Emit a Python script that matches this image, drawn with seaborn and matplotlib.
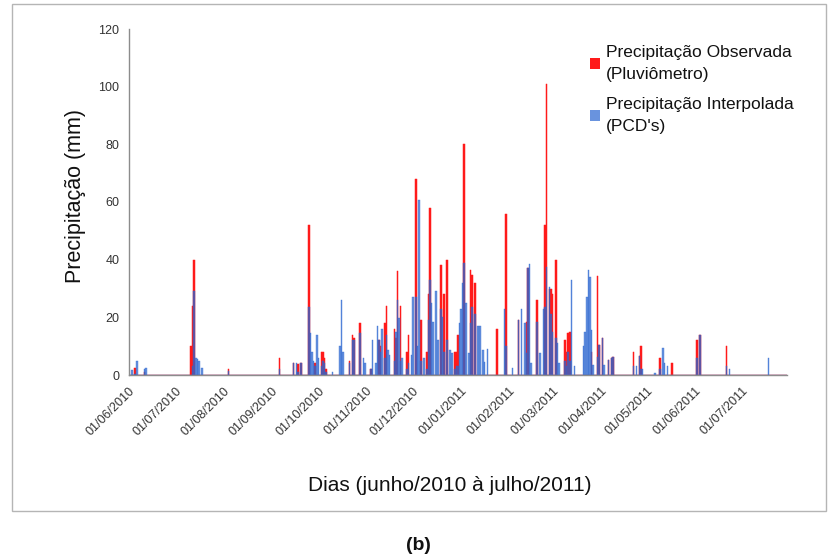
import numpy as np
import pandas as pd
import matplotlib
matplotlib.use("Agg")
import matplotlib.pyplot as plt
import seaborn as sns
from matplotlib.patches import Patch, Rectangle

# ---------------- data ----------------
datas = [
    "03/06/2010", "05/06/2010", "06/06/2010", "11/06/2010", "12/06/2010",
    "11/07/2010", "12/07/2010", "13/07/2010", "14/07/2010", "15/07/2010", "16/07/2010", "18/07/2010",
    "04/08/2010",
    "06/09/2010", "15/09/2010", "17/09/2010", "18/09/2010", "20/09/2010", "25/09/2010", "26/09/2010",
    "27/09/2010", "28/09/2010", "29/09/2010", "30/09/2010",
    "01/10/2010", "03/10/2010", "04/10/2010", "05/10/2010", "06/10/2010", "10/10/2010", "15/10/2010",
    "16/10/2010", "17/10/2010", "21/10/2010", "23/10/2010", "24/10/2010", "28/10/2010", "30/10/2010",
    "31/10/2010",
    "04/11/2010", "05/11/2010", "07/11/2010", "08/11/2010", "09/11/2010", "10/11/2010", "11/11/2010",
    "13/11/2010", "14/11/2010", "15/11/2010", "16/11/2010", "19/11/2010", "20/11/2010", "21/11/2010",
    "22/11/2010", "23/11/2010", "24/11/2010", "27/11/2010", "28/11/2010", "30/11/2010",
    "01/12/2010", "03/12/2010", "04/12/2010", "05/12/2010", "06/12/2010", "08/12/2010", "10/12/2010",
    "11/12/2010", "12/12/2010", "13/12/2010", "14/12/2010", "16/12/2010", "17/12/2010", "19/12/2010",
    "20/12/2010", "21/12/2010", "23/12/2010", "25/12/2010", "26/12/2010", "28/12/2010", "29/12/2010",
    "30/12/2010", "31/12/2010",
    "01/01/2011", "02/01/2011", "03/01/2011", "04/01/2011", "06/01/2011", "07/01/2011", "08/01/2011",
    "10/01/2011", "12/01/2011", "13/01/2011", "15/01/2011", "16/01/2011", "18/01/2011", "24/01/2011",
    "29/01/2011", "30/01/2011",
    "03/02/2011", "07/02/2011", "09/02/2011", "11/02/2011", "12/02/2011", "13/02/2011", "14/02/2011",
    "15/02/2011", "19/02/2011", "21/02/2011", "23/02/2011", "24/02/2011", "25/02/2011", "27/02/2011",
    "28/02/2011",
    "01/03/2011", "03/03/2011", "04/03/2011", "05/03/2011", "09/03/2011", "10/03/2011", "11/03/2011",
    "12/03/2011", "13/03/2011", "15/03/2011", "21/03/2011", "22/03/2011", "23/03/2011", "24/03/2011",
    "25/03/2011", "26/03/2011", "27/03/2011", "30/03/2011", "31/03/2011",
    "02/04/2011", "03/04/2011", "06/04/2011", "08/04/2011", "09/04/2011", "22/04/2011", "24/04/2011",
    "26/04/2011", "27/04/2011", "28/04/2011",
    "06/05/2011", "09/05/2011", "11/05/2011", "12/05/2011", "14/05/2011", "17/05/2011",
    "02/06/2011", "04/06/2011", "21/06/2011", "23/06/2011",
    "18/07/2011",
]

observada = [
    0, 2.3, 0, 1, 0,
    10, 24, 40, 0, 0, 0, 0,
    2,
    6, 4, 0, 3.8, 4, 52, 0,
    0, 0, 4, 0,
    0, 8, 8, 6, 2, 0, 0,
    0, 0, 5, 14, 13, 18, 0,
    0,
    2, 0, 0, 0, 12, 10, 0,
    18, 24, 0, 0, 16, 12.7, 36,
    0, 24, 0, 8, 14, 0,
    0, 68, 0, 0, 19, 0, 8,
    28, 58, 0, 0, 0, 0, 38,
    0, 28, 40, 0, 0, 8, 8,
    14, 0,
    0, 0, 80, 0, 0, 36.4, 34.7,
    32, 0, 0, 0, 0, 0, 16,
    0, 56,
    0, 19, 0, 0, 18.5, 37, 0,
    0, 26, 0, 0, 52, 101, 30,
    30,
    28, 40, 0, 0, 12, 8, 14.4,
    15, 0, 0, 0, 0, 0, 0,
    0, 8, 0, 34.3, 10.4,
    12.7, 0, 5.2, 6, 6.4, 8, 0,
    6.6, 10, 0,
    0, 6, 0, 0, 0, 4,
    12, 14, 10, 0,
    0,
]

interpolada = [
    1.7, 0.5, 5, 2, 2.3,
    0, 3, 29, 6, 5.5, 5, 2.6,
    1.5,
    2, 4, 4, 1, 4, 23.7, 14.5,
    8, 5, 3, 14,
    6, 3, 5, 4, 1, 1, 10,
    26, 8, 4, 12, 12, 14.5, 6,
    4,
    2, 12, 4, 17, 12, 8, 16,
    6, 14, 8.7, 7, 5, 15, 26,
    19.6, 5, 6, 2, 4, 7,
    27, 27, 10, 60.7, 5, 6, 2,
    19, 33, 25, 18.5, 29, 12, 23,
    20, 8, 12, 8.7, 7.5, 2, 3,
    3, 18,
    23, 32, 38.7, 25, 7.5, 18, 23.7,
    21, 17, 17, 8.7, 4.6, 9, 0,
    23, 10,
    2.3, 19, 23, 18, 7.5, 37, 38.4,
    4, 18.5, 7.5, 23, 23.7, 37.5, 30.6,
    21,
    15, 13, 11, 4, 5, 3, 8,
    5, 33, 3, 10, 15, 27, 36.4,
    34, 15.6, 3.5, 6.4, 10.4,
    12.7, 3.5, 5.2, 6, 6.4, 3, 3,
    6.6, 2, 2,
    0.6, 2, 9.2, 4, 3, 0,
    5.8, 14, 3, 2,
    5.8,
]

rotulos_x = ["01/06/2010", "01/07/2010", "01/08/2010", "01/09/2010", "01/10/2010",
             "01/11/2010", "01/12/2010", "01/01/2011", "01/02/2011", "01/03/2011",
             "01/04/2011", "01/05/2011", "01/06/2011", "01/07/2011"]
yticks = [0, 20, 40, 60, 80, 100, 120]

# ---------------- build daily table ----------------
inicio = pd.Timestamp("2010-06-01")
dias = pd.date_range(inicio, "2011-07-31", freq="D")
df = pd.DataFrame({"data": dias})
df["dia"] = np.arange(len(df))
idx = pd.to_datetime(datas, format="%d/%m/%Y")
df["obs"] = df["data"].map(pd.Series(observada, index=idx)).fillna(0.0)
df["interp"] = df["data"].map(pd.Series(interpolada, index=idx)).fillna(0.0)

tick_pos = [(pd.to_datetime(t, format="%d/%m/%Y") - inicio).days for t in rotulos_x]

# ---------------- figure ----------------
sns.set_style("white")
plt.rcParams["font.family"] = ["Liberation Sans", "DejaVu Sans"]

W, H = 836, 555
fig = plt.figure(figsize=(W / 100, H / 100), dpi=100)
x0, x1, ytop, ybot = 129, 787, 29, 375
ax = fig.add_axes([x0 / W, 1 - ybot / H, (x1 - x0) / W, (ybot - ytop) / H])

RED = "#FF1A1A"
BLUE = "#2A66D0"
ALPHA_BLUE = 0.7

sns.barplot(data=df, x="dia", y="obs", native_scale=True, color=RED, saturation=1,
            width=1.0, errorbar=None, edgecolor=RED, linewidth=0.35, ax=ax)
sns.barplot(data=df, x="dia", y="interp", native_scale=True, color=BLUE, saturation=1,
            width=1.0, errorbar=None, edgecolor=BLUE, linewidth=0.35, alpha=ALPHA_BLUE, ax=ax)

ax.set_xlim(0, 424)
ax.set_ylim(0, 120)
ax.set_yticks(yticks)
ax.set_yticklabels([str(v) for v in yticks], fontsize=9, color="#333333")
ax.set_xticks(tick_pos)
ax.set_xticklabels(rotulos_x, rotation=45, ha="right", rotation_mode="anchor",
                   fontsize=9, color="#333333")

for s in ["top", "right"]:
    ax.spines[s].set_visible(False)
for s in ["left", "bottom"]:
    ax.spines[s].set_color("#8c8c8c")
    ax.spines[s].set_linewidth(1)
ax.tick_params(axis="both", direction="out", length=4, width=1, color="#8c8c8c", pad=3)
ax.grid(False)

ax.set_xlabel("Dias (junho/2010 à julho/2011)", fontsize=15, color="#111111")
ax.set_ylabel("Precipitação (mm)", fontsize=15.5, color="#111111")
ax.xaxis.set_label_coords((450 - x0) / (x1 - x0), (ybot - 476) / (ybot - ytop))
ax.yaxis.set_label_coords((86 - x0) / (x1 - x0), (ybot - 196) / (ybot - ytop))

handles = [Patch(facecolor=RED, edgecolor="none"),
           Patch(facecolor=BLUE, alpha=ALPHA_BLUE, edgecolor="none")]
labels = ["Precipitação Observada\n(Pluviômetro)", "Precipitação Interpolada\n(PCD's)"]
leg = fig.legend(handles, labels, loc="upper left", bbox_to_anchor=(590 / W, 1 - 45 / H),
                 frameon=False, fontsize=12.5, handlelength=0.6, handleheight=0.6,
                 handletextpad=0.3, labelspacing=0.9, borderaxespad=0, borderpad=0)
for t in leg.get_texts():
    t.set_linespacing(1.55)
    t.set_color("#111111")

fig.patches.append(Rectangle((12 / W, 1 - 511 / H), (826 - 12) / W, (511 - 4) / H,
                             transform=fig.transFigure, fill=False,
                             edgecolor="#b5b5b5", linewidth=1))
fig.text(418 / W, 1 - 545 / H, "(b)", ha="center", va="center", fontsize=14,
         fontweight="bold", color="#111111")

fig.savefig("out.png", dpi=100)
